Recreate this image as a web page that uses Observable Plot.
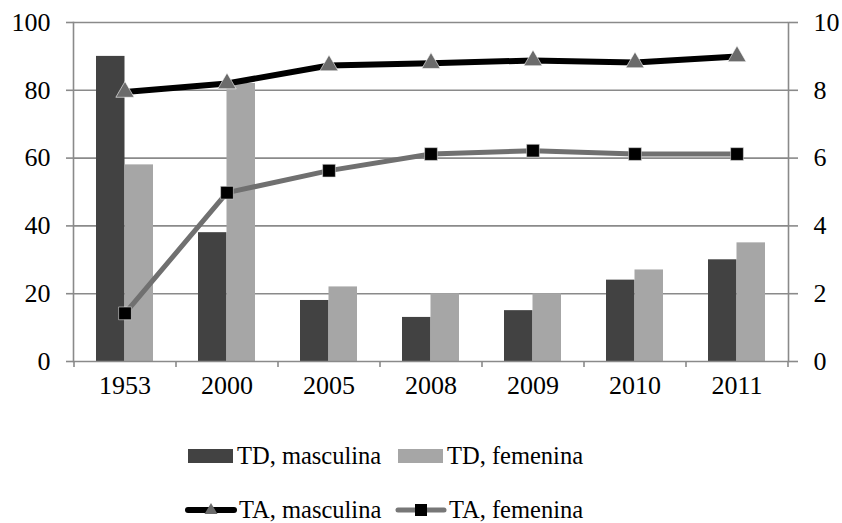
<!DOCTYPE html>
<html>
<head>
<meta charset="utf-8">
<script src="https://cdn.jsdelivr.net/npm/d3@7"></script>
<script src="https://cdn.jsdelivr.net/npm/@observablehq/plot@0.6"></script>
<style>
  html, body { margin: 0; padding: 0; background: #fff; }
  #chart { width: 842px; }
  #chart svg, #chart svg text { font-family: "Liberation Serif", "Times New Roman", "DejaVu Serif", serif !important; }
  .legend { width: 842px; height: 123px; position: relative; font-family: "Liberation Serif", "Times New Roman", "DejaVu Serif", serif; font-size: 24.5px; color: #000; }
  .row { position: absolute; left: 185px; display: flex; align-items: center; height: 30px; }
  .item { display: flex; align-items: center; width: 210px; }
  .item svg { margin-right: 2px; }
</style>
</head>
<body>
<div id="chart"></div>
<div class="legend">
  <div class="row" style="top:41px">
    <div class="item"><svg width="50" height="16"><rect x="3" y="1" width="45" height="14" fill="#424242"/></svg><span>TD, masculina</span></div>
    <div class="item"><svg width="50" height="16"><rect x="3" y="1" width="45" height="14" fill="#a6a6a6"/></svg><span>TD, femenina</span></div>
  </div>
  <div class="row" style="top:95px">
    <div class="item"><svg width="52" height="20"><line x1="3" y1="10" x2="49" y2="10" stroke="#000" stroke-width="6" stroke-linecap="round"/><path d="M26,3 L32.5,14 L19.5,14 Z" fill="#6b6b6b"/></svg><span>TA, masculina</span></div>
    <div class="item"><svg width="52" height="20"><line x1="3" y1="10" x2="49" y2="10" stroke="#777" stroke-width="5" stroke-linecap="round"/><rect x="20" y="4" width="12" height="12" fill="#000"/></svg><span>TA, femenina</span></div>
  </div>
</div>
<script>
const years = ["1953", "2000", "2005", "2008", "2009", "2010", "2011"];
const tdMasculina = [90, 38, 18, 13, 15, 24, 30];
const tdFemenina = [58, 82, 22, 20, 20, 27, 35];
const taMasculina = [7.95, 8.2, 8.73, 8.8, 8.88, 8.82, 9.0];
const taFemenina = [1.42, 4.98, 5.63, 6.12, 6.22, 6.12, 6.12];
const leftTicks = [0, 20, 40, 60, 80, 100];
const rightTicks = [0, 2, 4, 6, 8, 10];

const bars = years.map((y, i) => ({year: y, masc: tdMasculina[i], fem: tdFemenina[i]}));
const lines = years.map((y, i) => ({year: y, masc: taMasculina[i], fem: taFemenina[i]}));
const RATIO = 10; // right axis (0-10) mapped onto left axis (0-100)

const font = "'Liberation Serif', 'Times New Roman', serif";
const gridColor = "#8a8a8a";

const chart = Plot.plot({
  width: 842,
  height: 400,
  marginLeft: 73,
  marginRight: 54,
  marginTop: 22,
  marginBottom: 39,
  style: {fontFamily: font, fontSize: "26px", color: "#000", background: "#fff"},
  x: {type: "band", domain: years, paddingInner: 0.44, paddingOuter: 0.22, align: 0.5},
  y: {domain: [0, 100]},
  marks: [
    Plot.ruleY(leftTicks.slice(1), {stroke: gridColor, strokeWidth: 1.6}),
    Plot.barY(bars, {x: "year", y: "masc", fill: "#424242", insetRight: 28.5}),
    Plot.barY(bars, {x: "year", y: "fem", fill: "#a6a6a6", insetLeft: 28.5}),
    Plot.ruleY([0], {stroke: gridColor, strokeWidth: 1.6}),
    Plot.ruleX([0], {x: () => years[0], y1: 0, y2: 0, dx: -51, insetBottom: -6, stroke: gridColor, strokeWidth: 1.6}),
    Plot.ruleX(years, {x: d => d, y1: 0, y2: 0, dx: 51, insetBottom: -6, stroke: gridColor, strokeWidth: 1.6}),
    Plot.axisY(leftTicks, {anchor: "left", tickSize: 7, tickPadding: 16, stroke: gridColor, strokeWidth: 1.6, fontSize: 26, fill: "#000", label: null}),
    Plot.axisY(rightTicks.map(d => d * RATIO), {anchor: "right", tickSize: 9, tickPadding: 16, tickFormat: d => d / RATIO, stroke: gridColor, strokeWidth: 1.6, fontSize: 26, fill: "#000", label: null}),
    Plot.frame({anchor: "left", stroke: gridColor, strokeWidth: 1.6}),
    Plot.frame({anchor: "right", stroke: gridColor, strokeWidth: 1.6}),
    Plot.axisX(years, {tickSize: 0, tickPadding: 14, fontSize: 26, fill: "#000", label: null}),
    Plot.line(lines, {x: "year", y: d => d.fem * RATIO, stroke: "#707070", strokeWidth: 5}),
    Plot.line(lines, {x: "year", y: d => d.masc * RATIO, stroke: "#000", strokeWidth: 6}),
    Plot.dot(lines, {x: "year", y: d => d.masc * RATIO, symbol: "triangle", r: 6.8, fill: "#6b6b6b", stroke: "#fff", strokeWidth: 0.6}),
    Plot.dot(lines, {x: "year", y: d => d.fem * RATIO, symbol: "square", r: 7.2, fill: "#000", stroke: "#ddd", strokeWidth: 0.6})
  ]
});
document.getElementById("chart").appendChild(chart);
</script>
</body>
</html>
